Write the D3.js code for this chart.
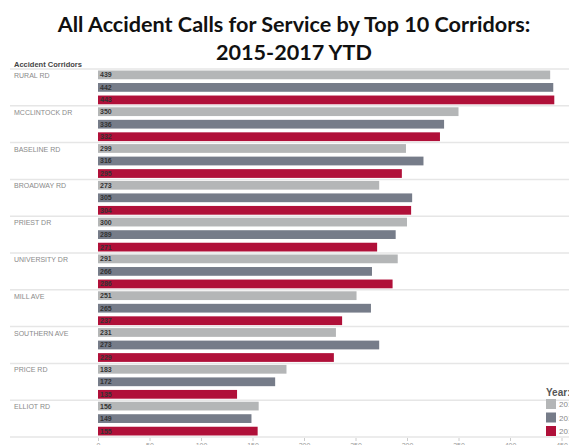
<!DOCTYPE html>
<html>
<head>
<meta charset="utf-8">
<script src="https://cdn.jsdelivr.net/npm/d3@7"></script>
<style>
  body { margin: 0; background: #fff; }
  svg { display: block; }
  .title { font-family: Lato, 'Noto Sans', sans-serif; font-weight: 700; font-size: 21.6px; fill: #111; }
  .cat { font-family: 'Liberation Sans', Arial, sans-serif; font-size: 7px; fill: #8a8a8a; }
  .val { font-family: 'Liberation Sans', Arial, sans-serif; font-size: 7px; font-weight: 700; fill: #333; }
  .x-axis text { font-family: 'Liberation Sans', Arial, sans-serif; font-size: 7px; fill: #999; }
  .x-axis line { stroke: #ccc; }
  .x-axis path { display: none; }
</style>
</head>
<body>
<svg id="chart"></svg>
<script>
'use strict';

const corridors = ['RURAL RD', 'MCCLINTOCK DR', 'BASELINE RD', 'BROADWAY RD', 'PRIEST DR',
  'UNIVERSITY DR', 'MILL AVE', 'SOUTHERN AVE', 'PRICE RD', 'ELLIOT RD'];
const years = ['2015', '2016', '2017'];
const calls2015 = [439, 350, 299, 273, 300, 291, 251, 231, 183, 156];
const calls2016 = [442, 336, 316, 305, 289, 266, 265, 273, 172, 149];
const calls2017 = [443, 332, 295, 304, 271, 286, 237, 229, 135, 155];
const xTicks = [0, 50, 100, 150, 200, 250, 300, 350, 400, 450];

const series = [calls2015, calls2016, calls2017];
const colors = ['#b4b6b7', '#767c89', '#b01039'];

const width = 569, height = 445;
const svg = d3.select('#chart')
    .attr('width', width)
    .attr('height', height);

// title
svg.append('text')
    .attr('class', 'title')
    .attr('x', 294)
    .attr('y', 32)
    .attr('text-anchor', 'middle')
    .text('All Accident Calls for Service by Top 10 Corridors:');
svg.append('text')
    .attr('class', 'title')
    .attr('x', 294)
    .attr('y', 60)
    .attr('text-anchor', 'middle')
    .text('2015-2017 YTD');

svg.append('text')
    .attr('x', 14)
    .attr('y', 67)
    .style('font-family', "'Liberation Sans', Arial, sans-serif")
    .style('font-size', '7.5px')
    .style('font-weight', 700)
    .style('fill', '#444')
    .text('Accident Corridors');

const y0 = d3.scaleBand()
    .domain(corridors)
    .range([69, 437]);

const y1 = d3.scaleBand()
    .domain(years)
    .range([0, y0.bandwidth()])
    .paddingInner(0.3)
    .paddingOuter(0.12);

const x = d3.scaleLinear()
    .domain([0, 450])
    .range([98, 561.5]);

// group separators
svg.append('g')
  .selectAll('line')
  .data(corridors.concat(['__end']))
  .join('line')
    .attr('x1', 10)
    .attr('x2', width)
    .attr('y1', (d, i) => i < corridors.length ? y0(d) : y0.range()[1])
    .attr('y2', (d, i) => i < corridors.length ? y0(d) : y0.range()[1])
    .attr('stroke', '#e6e6e6')
    .attr('stroke-width', 1.5);

const rows = corridors.map((c, i) => ({
  name: c,
  values: years.map((yr, j) => ({ year: yr, value: series[j][i], color: colors[j] }))
}));

const groups = svg.append('g')
  .selectAll('g')
  .data(rows)
  .join('g')
    .attr('transform', d => `translate(0, ${y0(d.name)})`);

groups.append('text')
    .attr('class', 'cat')
    .attr('x', 14)
    .attr('y', 9)
    .text(d => d.name);

groups.selectAll('rect')
  .data(d => d.values)
  .join('rect')
    .attr('x', x(0))
    .attr('y', d => y1(d.year))
    .attr('width', d => x(d.value) - x(0))
    .attr('height', y1.bandwidth())
    .attr('fill', d => d.color);

groups.selectAll('text.val')
  .data(d => d.values)
  .join('text')
    .attr('class', 'val')
    .attr('x', x(0) + 2)
    .attr('y', d => y1(d.year) + y1.bandwidth() / 2)
    .attr('dy', '0.35em')
    .text(d => d.value);

// x axis
const xAxis = d3.axisBottom(x)
    .tickValues(xTicks)
    .tickSize(3)
    .tickPadding(2);

svg.append('g')
    .attr('class', 'x-axis')
    .attr('transform', `translate(0, ${y0.range()[1] + 1})`)
    .call(xAxis);

// legend
const legend = svg.append('g')
    .attr('transform', 'translate(546, 0)');

legend.append('text')
    .attr('x', 0)
    .attr('y', 396)
    .style('font-family', "'Liberation Sans', Arial, sans-serif")
    .style('font-size', '10px')
    .style('font-weight', 700)
    .style('fill', '#555')
    .text('Year:');

const items = legend.selectAll('g.item')
  .data(years)
  .join('g')
    .attr('class', 'item')
    .attr('transform', (d, i) => `translate(0, ${399 + i * 13.5})`);

items.append('rect')
    .attr('width', 10)
    .attr('height', 10)
    .attr('fill', (d, i) => colors[i]);

items.append('text')
    .attr('x', 13)
    .attr('y', 8)
    .style('font-family', "'Liberation Sans', Arial, sans-serif")
    .style('font-size', '8px')
    .style('fill', '#888')
    .text(d => d);
</script>
</body>
</html>
